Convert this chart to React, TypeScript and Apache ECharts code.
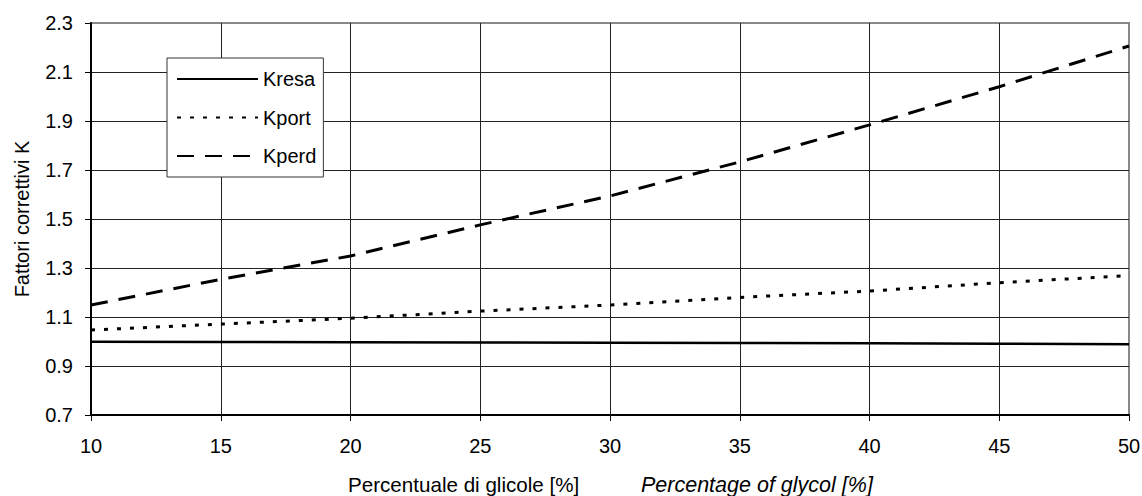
import React, { useEffect, useRef } from "react";
import * as echarts from "echarts";

const glycol = [10, 15, 20, 25, 30, 35, 40, 45, 50];
const kresa = [0.999, 0.998, 0.997, 0.996, 0.995, 0.994, 0.993, 0.991, 0.989];
const kport = [1.047, 1.071, 1.095, 1.124, 1.149, 1.18, 1.206, 1.24, 1.269];
const kperd = [1.149, 1.254, 1.349, 1.476, 1.594, 1.733, 1.884, 2.04, 2.206];
const seriesNames = ["Kresa", "Kport", "Kperd"];
const yTitle = "Fattori correttivi K";
const xTitleIt = "Percentuale di glicole [%]";
const xTitleEn = "Percentage of glycol [%]";

const FONT = "'Liberation Sans', Arial, sans-serif";
const FS = 20;

export default function App() {
  const ref = useRef<HTMLDivElement>(null);
  useEffect(() => {
    const chart = echarts.init(ref.current!, null, { renderer: "svg" });
    const pairs = (ys: number[]) => glycol.map((x, i) => [x, ys[i]]);
    chart.setOption({
      animation: false,
      backgroundColor: "#fff",
      textStyle: { fontFamily: FONT, color: "#000" },
      grid: {
        left: 91,
        right: 13,
        top: 23,
        bottom: 81,
        containLabel: false,
        outerBoundsMode: "none",
        show: true,
        borderColor: "#888",
        borderWidth: 2,
        backgroundColor: "transparent",
      },
      graphic: [
        {
          type: "text",
          left: 348,
          top: 474,
          style: { text: xTitleIt, fontFamily: FONT, fontSize: 20.6, fill: "#000" },
        },
        {
          type: "text",
          left: 641,
          top: 473.5,
          style: { text: xTitleEn, fontFamily: FONT, fontSize: 21.5, fontStyle: "italic", fill: "#000" },
        },
      ],
      legend: {
        orient: "vertical",
        left: 167,
        top: 58,
        itemWidth: 81,
        itemHeight: 14,
        itemGap: 18.5,
        padding: [11, 7, 11, 9],
        backgroundColor: "#fff",
        borderColor: "#333",
        borderWidth: 1,
        borderRadius: 0,
        itemStyle: { opacity: 0 },
        textStyle: { fontFamily: FONT, fontSize: FS, color: "#000" },
        data: seriesNames,
      },
      xAxis: {
        type: "value",
        min: 10,
        max: 50,
        interval: 5,
        axisLine: { onZero: false, lineStyle: { color: "#000", width: 2 } },
        axisTick: { show: true, inside: false, length: 6, lineStyle: { color: "#000", width: 1 } },
        axisLabel: { margin: 21, fontFamily: FONT, fontSize: FS, color: "#000" },
        splitLine: { show: true, showMaxLine: false, lineStyle: { color: "#222", width: 1 } },
      },
      yAxis: {
        type: "value",
        min: 0.7,
        max: 2.3,
        interval: 0.2,
        axisLine: { show: true, onZero: false, lineStyle: { color: "#000", width: 2 } },
        axisTick: { show: true, inside: false, length: 6, lineStyle: { color: "#000", width: 1 } },
        axisLabel: {
          margin: 18,
          fontFamily: FONT,
          fontSize: FS,
          color: "#000",
          formatter: (v: number) => v.toFixed(1),
        },
        splitLine: { show: true, showMaxLine: false, lineStyle: { color: "#222", width: 1 } },
        name: yTitle,
        nameLocation: "middle",
        nameGap: 59,
        nameTextStyle: { fontFamily: FONT, fontSize: FS, color: "#000" },
      },
      series: [
        {
          name: seriesNames[0],
          type: "line",
          data: pairs(kresa),
          symbol: "none",
          lineStyle: { color: "#000", width: 2.5, type: "solid" },
          itemStyle: { color: "#000" },
        },
        {
          name: seriesNames[1],
          type: "line",
          data: pairs(kport),
          symbol: "none",
          lineStyle: { color: "#000", width: 3, type: [4, 9] },
          itemStyle: { color: "#000" },
        },
        {
          name: seriesNames[2],
          type: "line",
          data: pairs(kperd),
          symbol: "none",
          lineStyle: { color: "#000", width: 3, type: [17, 11] },
          itemStyle: { color: "#000" },
        },
      ],
    });
    return () => chart.dispose();
  }, []);
  return (
    <div
      ref={ref}
      style={{ position: "fixed", left: 0, top: 0, width: 1142, height: 496 }}
    />
  );
}
